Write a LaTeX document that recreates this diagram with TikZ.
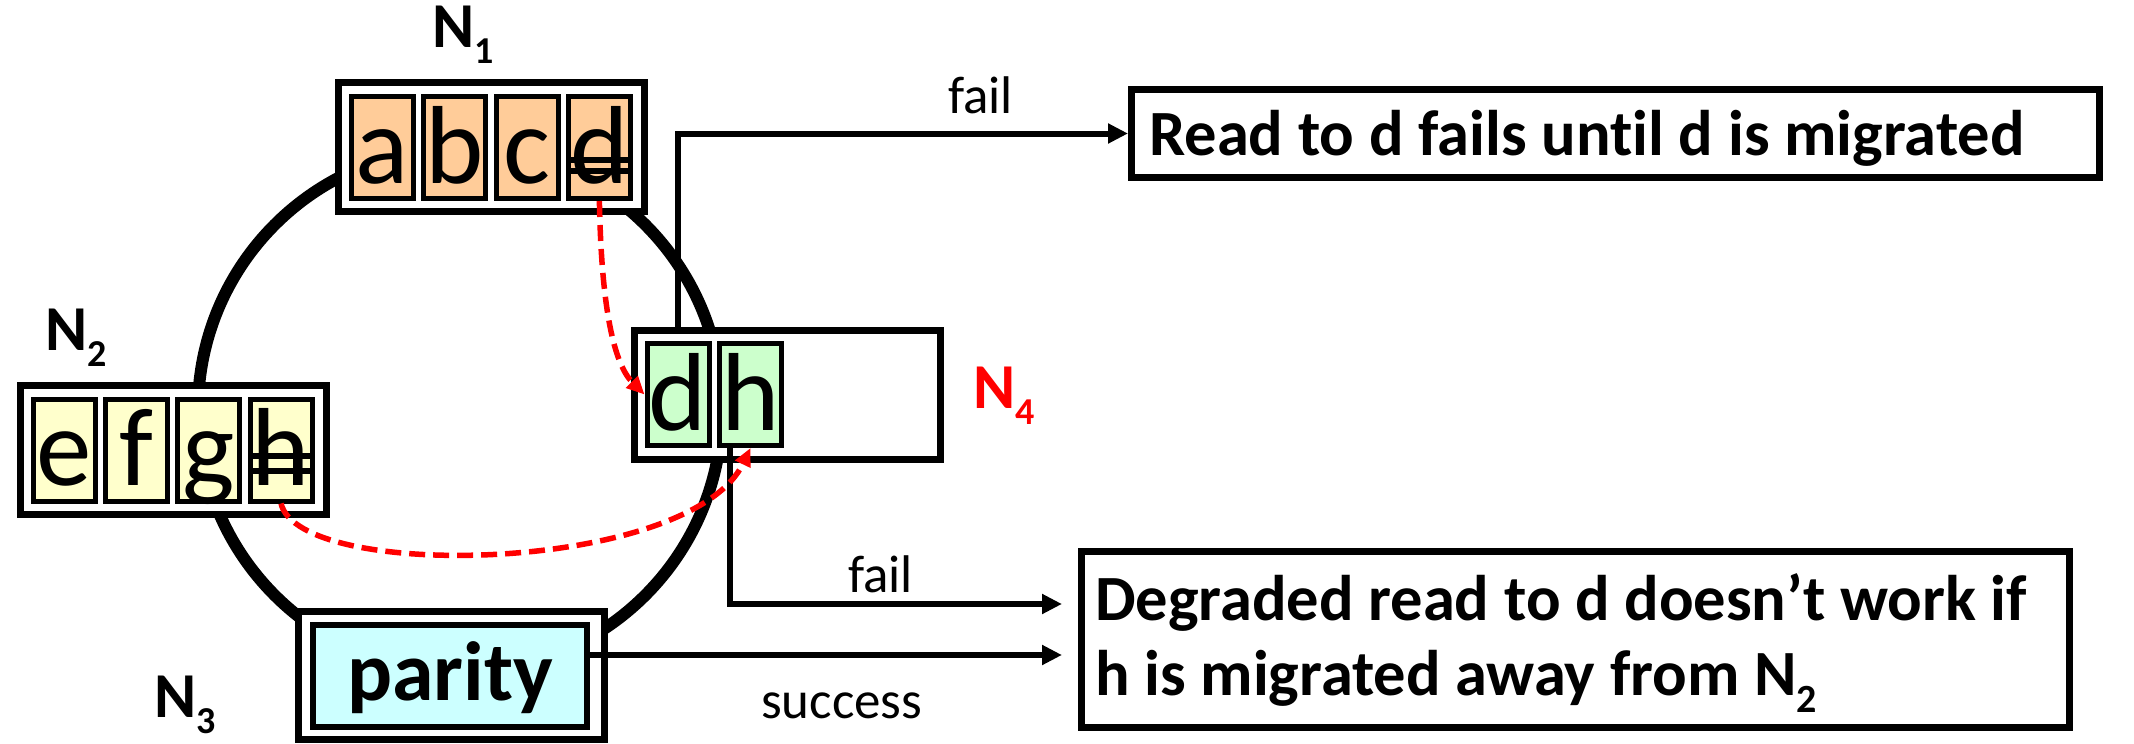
\documentclass[tikz,border=0pt]{standalone}
\usepackage{fontspec}
\setmainfont{Carlito}[Ligatures=NoCommon]
\usetikzlibrary{arrows.meta,calc}
\definecolor{cOrange}{RGB}{255,204,153}
\definecolor{cYellow}{RGB}{255,255,204}
\definecolor{cGreen}{RGB}{204,255,204}
\definecolor{cCyan}{RGB}{204,255,255}
\newcommand{\myfs}[1]{\fontsize{#1}{#1}\selectfont}
\newcommand{\mysub}[1]{\raisebox{-16pt}{\myfs{38}#1}}
\newcommand{\mysubb}[1]{\raisebox{-17pt}{\myfs{40}#1}}
\begin{document}
\begin{tikzpicture}[x=1pt,y=-1pt,
  frame/.style={draw, line width=7pt, fill=white, minimum width=306pt, minimum height=129pt, inner sep=0pt},
  cell/.style={draw, line width=5pt, minimum width=62pt, minimum height=102pt, inner sep=0pt, text height=71pt, text depth=0pt, font=\myfs{111}},
  nlabel/.style={anchor=base west, inner sep=0pt, font=\bfseries\myfs{64}},
  msg/.style={draw, line width=7pt, inner sep=0pt},
  msgtext/.style={anchor=base west, inner sep=0pt, font=\bfseries\myfs{64.5}},
  lbl/.style={anchor=base west, inner sep=0pt, font=\myfs{53}},
  conn/.style={line width=6pt, -{Triangle[length=20pt,width=19pt]}},
  mig/.style={red, line width=5.5pt, dash pattern=on 16pt off 8pt, -{Triangle[length=18pt,width=16pt]}},
  strike/.style={line width=5.5pt}
]
\useasboundingbox (0,0) rectangle (2134,744);

% ring
\draw[line width=12pt] (460,410) circle[radius=262pt];

% N1
\node[frame] (N1box) at (491.5,147) {};
\node[cell, fill=cOrange] (N1a) at (382.5,147.5) {a};
\node[cell, fill=cOrange] (N1b) at (454.8,147.5) {b};
\node[cell, fill=cOrange] (N1c) at (527.1,147.5) {c};
\node[cell, fill=cOrange] (N1d) at (599.4,147.5) {d};
\draw[strike] ($(N1d.center)+(-29.5,12.5)$) -- ($(N1d.center)+(28.5,12.5)$);
\draw[strike] ($(N1d.center)+(-29.5,23.5)$) -- ($(N1d.center)+(28.5,23.5)$);

% N2
\node[frame] (N2box) at (173.5,450) {};
\node[cell, fill=cYellow] (N2e) at (64,450) {e};
\node[cell, fill=cYellow] (N2f) at (136,450) {f};
\node[cell, fill=cYellow] (N2g) at (208.5,450) {g};
\node[cell, fill=cYellow] (N2h) at (281,450) {h};
\draw[strike] ($(N2h.center)+(-29,6)$) -- ($(N2h.center)+(29,6)$);
\draw[strike] ($(N2h.center)+(-29,21)$) -- ($(N2h.center)+(29,21)$);

% N4
\node[frame] (N4box) at (787.5,395) {};
\node[cell, fill=cGreen] (N4d) at (678,394.5) {d};
\node[cell, fill=cGreen] (N4h) at (750.5,394.5) {h};

% N3 parity
\node[frame, minimum height=128pt] (N3box) at (451.5,675.5) {};
\node[draw, line width=6pt, fill=cCyan, minimum width=274pt, minimum height=102pt, inner sep=0pt, text height=48pt, text depth=0pt, font=\bfseries\myfs{84}] (parity) at (450,676) {parity};

% labels
\node[nlabel] (L1) at (432,47) {N\mysub{1}};
\node[nlabel] (L2) at (45,350) {N\mysub{2}};
\node[nlabel] (L3) at (154,717) {N\mysub{3}};
\node[nlabel, red] (L4) at (973,408) {N\mysub{4}};

% messages
\node[msg, minimum width=968pt, minimum height=88pt] (box1) at (1615.5,133.5) {};
\node[msgtext] (t1) at (1149,155) {Read to d fails until d is migrated};
\node[msg, minimum width=988pt, minimum height=176pt] (box2) at (1575.5,639.5) {};
\node[msgtext] (t2a) at (1095,620) {Degraded read to d doesn’t work if};
\node[msgtext] (t2b) at (1095,695) {h is migrated away from N\mysubb{2}};

% connectors
\draw[conn] (N4d.center |- N4box.north) |- (box1.west);
\coordinate (f2end) at (1062,604);
\draw[conn] ($(N4h.south)+(-20.5,0)$) |- (f2end);
\coordinate (sEnd) at (1062,655);
\draw[conn] (parity.east |- sEnd) -- (sEnd);

\node[lbl] (fail1) at (948,113) {fail};
\node[lbl] (fail2) at (848,592) {fail};
\node[lbl] (succ) at (761,718) {success};

% migrations
\draw[mig] (N1d.south) .. controls +(2,110) and +(-30,-30) .. (N4d.west);
\draw[mig] (N2h.south) .. controls +(19,79) and +(-60,125) .. (N4h.south);
\end{tikzpicture}
\end{document}
